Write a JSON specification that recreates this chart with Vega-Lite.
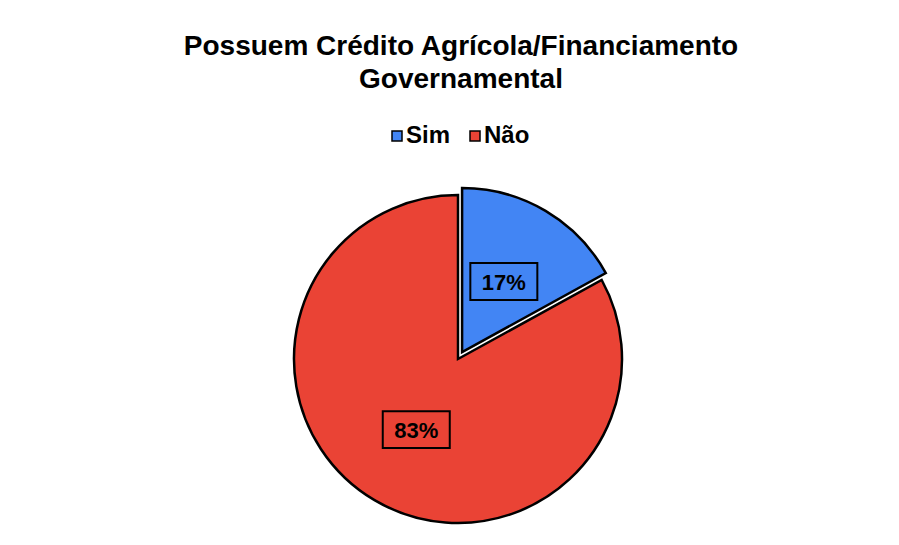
{
  "$schema": "https://vega.github.io/schema/vega-lite/v6.json",
  "autosize": "none",
  "width": 328,
  "height": 328,
  "padding": {"left": 294, "top": 195, "right": 277, "bottom": 22},
  "background": "white",
  "config": {"view": {"stroke": null}, "font": "Liberation Sans"},
  "title": {
    "text": ["Possuem Crédito Agrícola/Financiamento", "Governamental"],
    "font": "Liberation Sans",
    "fontSize": 28,
    "fontWeight": "bold",
    "color": "#000000",
    "lineHeight": 33,
    "anchor": "middle",
    "frame": "group",
    "offset": 30,
    "dx": 3
  },
  "data": {
    "values": [
      {"categoria": "Sim", "valor": 17},
      {"categoria": "Não", "valor": 83}
    ]
  },
  "transform": [
    {"window": [{"op": "sum", "field": "valor", "as": "fim"}], "frame": [null, 0]},
    {"calculate": "datum.fim - datum.valor", "as": "inicio"},
    {"calculate": "(datum.fim - datum.valor / 2) / 100 * 2 * PI", "as": "ang"},
    {"calculate": "datum.categoria == 'Sim' ? 0.049 : 0", "as": "desloc"},
    {"calculate": "datum.desloc * sin(datum.ang)", "as": "cx"},
    {"calculate": "datum.desloc * cos(datum.ang)", "as": "cy"},
    {"calculate": "datum.cx + 0.5 * sin(datum.ang)", "as": "lx"},
    {"calculate": "datum.cy + 0.5 * cos(datum.ang)", "as": "ly"},
    {"calculate": "datum.categoria == 'Sim' ? 1 : 0", "as": "ordem"},
    {"calculate": "datum.valor + '%'", "as": "rotulo"}
  ],
  "encoding": {
    "x": {"type": "quantitative", "scale": {"domain": [-1, 1]}, "axis": null},
    "y": {"type": "quantitative", "scale": {"domain": [-1, 1]}, "axis": null}
  },
  "layer": [
    {
      "mark": {"type": "arc", "stroke": "#000000", "strokeWidth": 2.5},
      "encoding": {
        "x": {"field": "cx"},
        "y": {"field": "cy"},
        "theta": {"field": "inicio", "type": "quantitative", "scale": {"domain": [0, 100]}},
        "theta2": {"field": "fim"},
        "order": {"field": "ordem", "type": "quantitative"},
        "color": {
          "field": "categoria",
          "type": "nominal",
          "scale": {"domain": ["Sim", "Não"], "range": ["#4285F4", "#EA4335"]},
          "legend": {
            "title": null,
            "orient": "none",
            "direction": "horizontal",
            "legendX": 91,
            "legendY": -71,
            "symbolType": "square",
            "symbolSize": 100,
            "symbolStrokeColor": "#000000",
            "symbolStrokeWidth": 1.5,
            "labelFont": "Liberation Sans",
            "labelFontSize": 24,
            "labelFontWeight": "bold",
            "labelColor": "#000000",
            "labelOffset": -3,
            "columnPadding": 12,
            "symbolOffset": 0
          }
        }
      }
    },
    {
      "mark": {
        "type": "point",
        "shape": "M-1,-0.55L1,-0.55L1,0.55L-1,0.55Z",
        "size": 4489,
        "filled": false,
        "stroke": "#000000",
        "strokeWidth": 2,
        "opacity": 1
      },
      "encoding": {
        "x": {"field": "lx"},
        "y": {"field": "ly"}
      }
    },
    {
      "mark": {
        "type": "text",
        "font": "Liberation Sans",
        "fontSize": 22,
        "fontWeight": "bold",
        "color": "#000000",
        "baseline": "middle",
        "align": "center",
        "dy": 1
      },
      "encoding": {
        "x": {"field": "lx"},
        "y": {"field": "ly"},
        "text": {"field": "rotulo", "type": "nominal"}
      }
    }
  ]
}
